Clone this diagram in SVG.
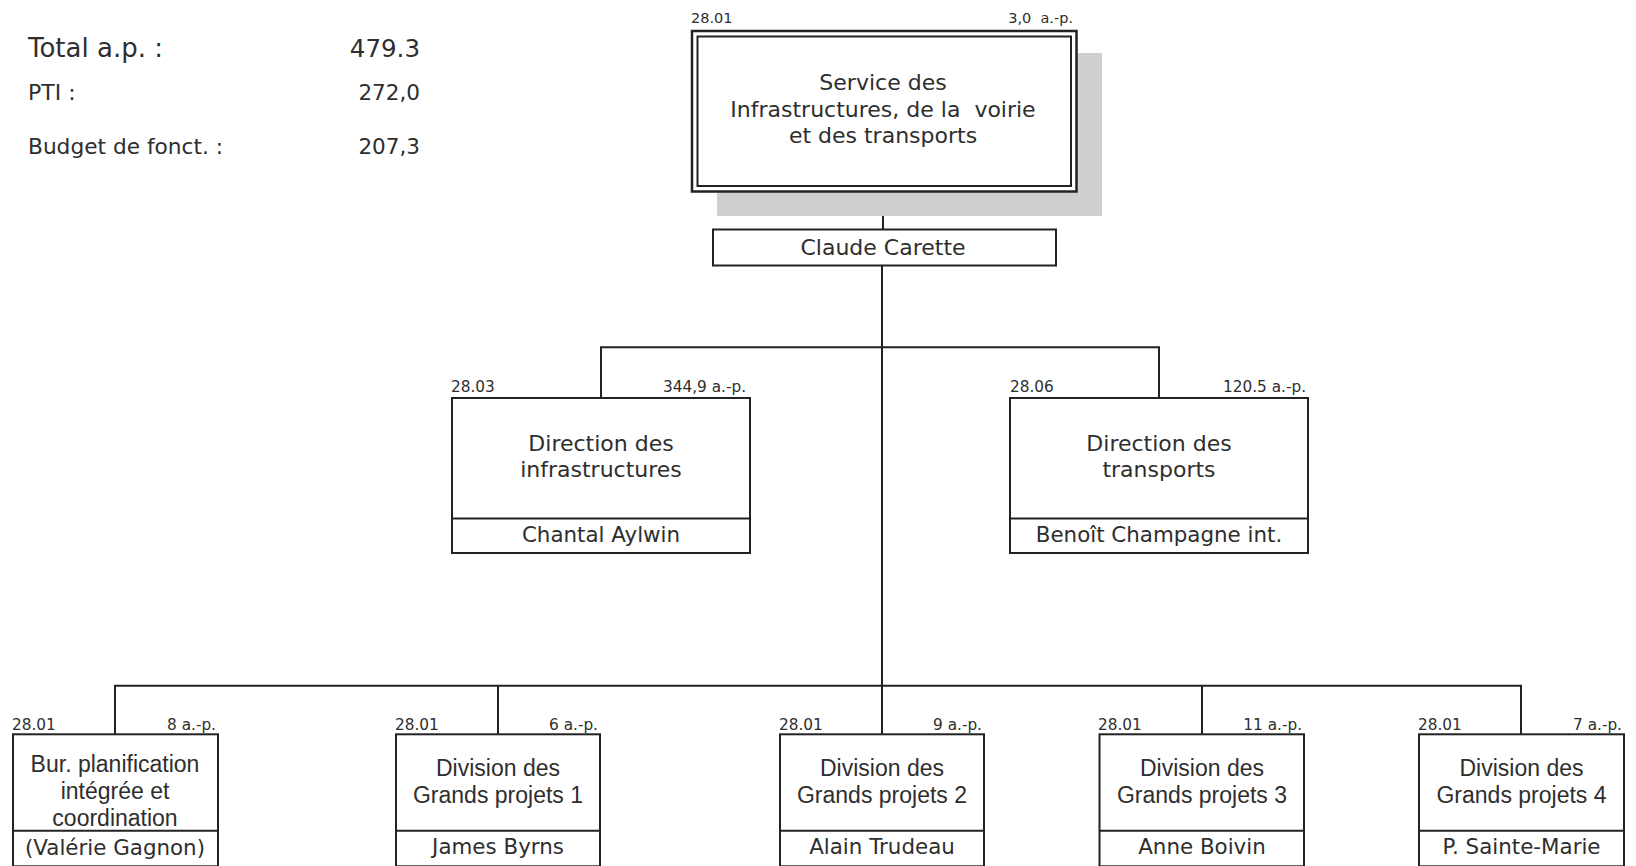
<svg xmlns="http://www.w3.org/2000/svg" width="1636" height="866" viewBox="0 0 1636 866">
<style>
.box{fill:#fff;stroke:#222;stroke-width:2}
.ln{fill:none;stroke:#222;stroke-width:2}
.t{font-family:"DejaVu Sans",Verdana,sans-serif;fill:#2e2e2e}
.a{font-family:"Liberation Sans",Arial,sans-serif;fill:#2e2e2e;font-size:23px;text-anchor:middle}
.big{font-size:22px;text-anchor:middle}
.nm{font-size:21.4px;text-anchor:middle}
.lbl{font-size:15.3px}
.r{text-anchor:end}
</style>
<rect width="1636" height="866" fill="#fff"/>

<g id="summary">
<text class="t" x="28" y="57" font-size="26">Total a.p. :</text>
<text class="t r" x="420" y="57" font-size="24.5">479.3</text>
<text class="t" x="28" y="100" font-size="22">PTI :</text>
<text class="t r" x="420" y="100" font-size="21.5">272,0</text>
<text class="t" x="28" y="154" font-size="21.7">Budget de fonct. :</text>
<text class="t r" x="420" y="154" font-size="21.5">207,3</text>
</g>

<g id="connectors">
<path class="ln" d="M883 191.7V229.5"/>
<path class="ln" d="M882 265.7V685.7"/>
<path class="ln" d="M601 398V347.3H1159V398"/>
<path class="ln" d="M115 734.3V685.7H1521V734.3"/>
<path class="ln" d="M498 685.7V734.3M882 685.7V734.3M1202 685.7V734.3"/>
</g>

<g id="service">
<rect x="717" y="53" width="385" height="163" fill="#cfcfcf"/>
<rect x="692" y="31" width="384.5" height="160.5" fill="#fff" stroke="#222" stroke-width="2.5"/>
<rect x="697.5" y="36.5" width="373.5" height="149.5" fill="none" stroke="#222" stroke-width="2"/>
<text class="t" x="691" y="23" font-size="14.5">28.01</text>
<text class="t r" x="1073" y="23" font-size="14.5" xml:space="preserve">3,0  a.-p.</text>
<text class="t big" x="883" y="90">Service des</text>
<text class="t big" x="883" y="117" xml:space="preserve">Infrastructures, de la  voirie</text>
<text class="t big" x="883" y="143">et des transports</text>
</g>

<g id="carette">
<rect class="box" x="713" y="229.5" width="343" height="36"/>
<text class="t big" x="883" y="255">Claude Carette</text>
</g>

<g id="dir-infra">
<rect class="box" x="452" y="398" width="298" height="155"/>
<path class="ln" d="M452 518.5H750"/>
<text class="t lbl" x="451" y="392">28.03</text>
<text class="t lbl r" x="746" y="392">344,9 a.-p.</text>
<text class="t big" x="601" y="451">Direction des</text>
<text class="t big" x="601" y="477">infrastructures</text>
<text class="t nm" x="601" y="542">Chantal Aylwin</text>
</g>

<g id="dir-transports">
<rect class="box" x="1010" y="398" width="298" height="155"/>
<path class="ln" d="M1010 518.5H1308"/>
<text class="t lbl" x="1010" y="392">28.06</text>
<text class="t lbl r" x="1306" y="392">120.5 a.-p.</text>
<text class="t big" x="1159" y="451">Direction des</text>
<text class="t big" x="1159" y="477">transports</text>
<text class="t nm" x="1159" y="542">Benoît Champagne int.</text>
</g>

<g id="bureau">
<rect class="box" x="13" y="734.3" width="205" height="132"/>
<path class="ln" d="M13 830.7H218"/>
<text class="t lbl" x="12" y="730">28.01</text>
<text class="t lbl r" x="216" y="730">8 a.-p.</text>
<text class="a" x="115" y="772">Bur. planification</text>
<text class="a" x="115" y="799">intégrée et</text>
<text class="a" x="115" y="826">coordination</text>
<text class="t nm" x="115" y="855">(Valérie Gagnon)</text>
</g>

<g id="gp1">
<rect class="box" x="396" y="734.3" width="204" height="132"/>
<path class="ln" d="M396 830.7H600"/>
<text class="t lbl" x="395" y="730">28.01</text>
<text class="t lbl r" x="598" y="730">6 a.-p.</text>
<text class="a" x="498" y="776">Division des</text>
<text class="a" x="498" y="803">Grands projets 1</text>
<text class="t nm" x="498" y="854">James Byrns</text>
</g>

<g id="gp2">
<rect class="box" x="780" y="734.3" width="204" height="132"/>
<path class="ln" d="M780 830.7H984"/>
<text class="t lbl" x="779" y="730">28.01</text>
<text class="t lbl r" x="982" y="730">9 a.-p.</text>
<text class="a" x="882" y="776">Division des</text>
<text class="a" x="882" y="803">Grands projets 2</text>
<text class="t nm" x="882" y="854">Alain Trudeau</text>
</g>

<g id="gp3">
<rect class="box" x="1099.5" y="734.3" width="204.5" height="132"/>
<path class="ln" d="M1099.5 830.7H1304"/>
<text class="t lbl" x="1098" y="730">28.01</text>
<text class="t lbl r" x="1302" y="730">11 a.-p.</text>
<text class="a" x="1202" y="776">Division des</text>
<text class="a" x="1202" y="803">Grands projets 3</text>
<text class="t nm" x="1202" y="854">Anne Boivin</text>
</g>

<g id="gp4">
<rect class="box" x="1419" y="734.3" width="205" height="132"/>
<path class="ln" d="M1419 830.7H1624"/>
<text class="t lbl" x="1418" y="730">28.01</text>
<text class="t lbl r" x="1622" y="730">7 a.-p.</text>
<text class="a" x="1521.5" y="776">Division des</text>
<text class="a" x="1521.5" y="803">Grands projets 4</text>
<text class="t nm" x="1521.5" y="854">P. Sainte-Marie</text>
</g>
</svg>
